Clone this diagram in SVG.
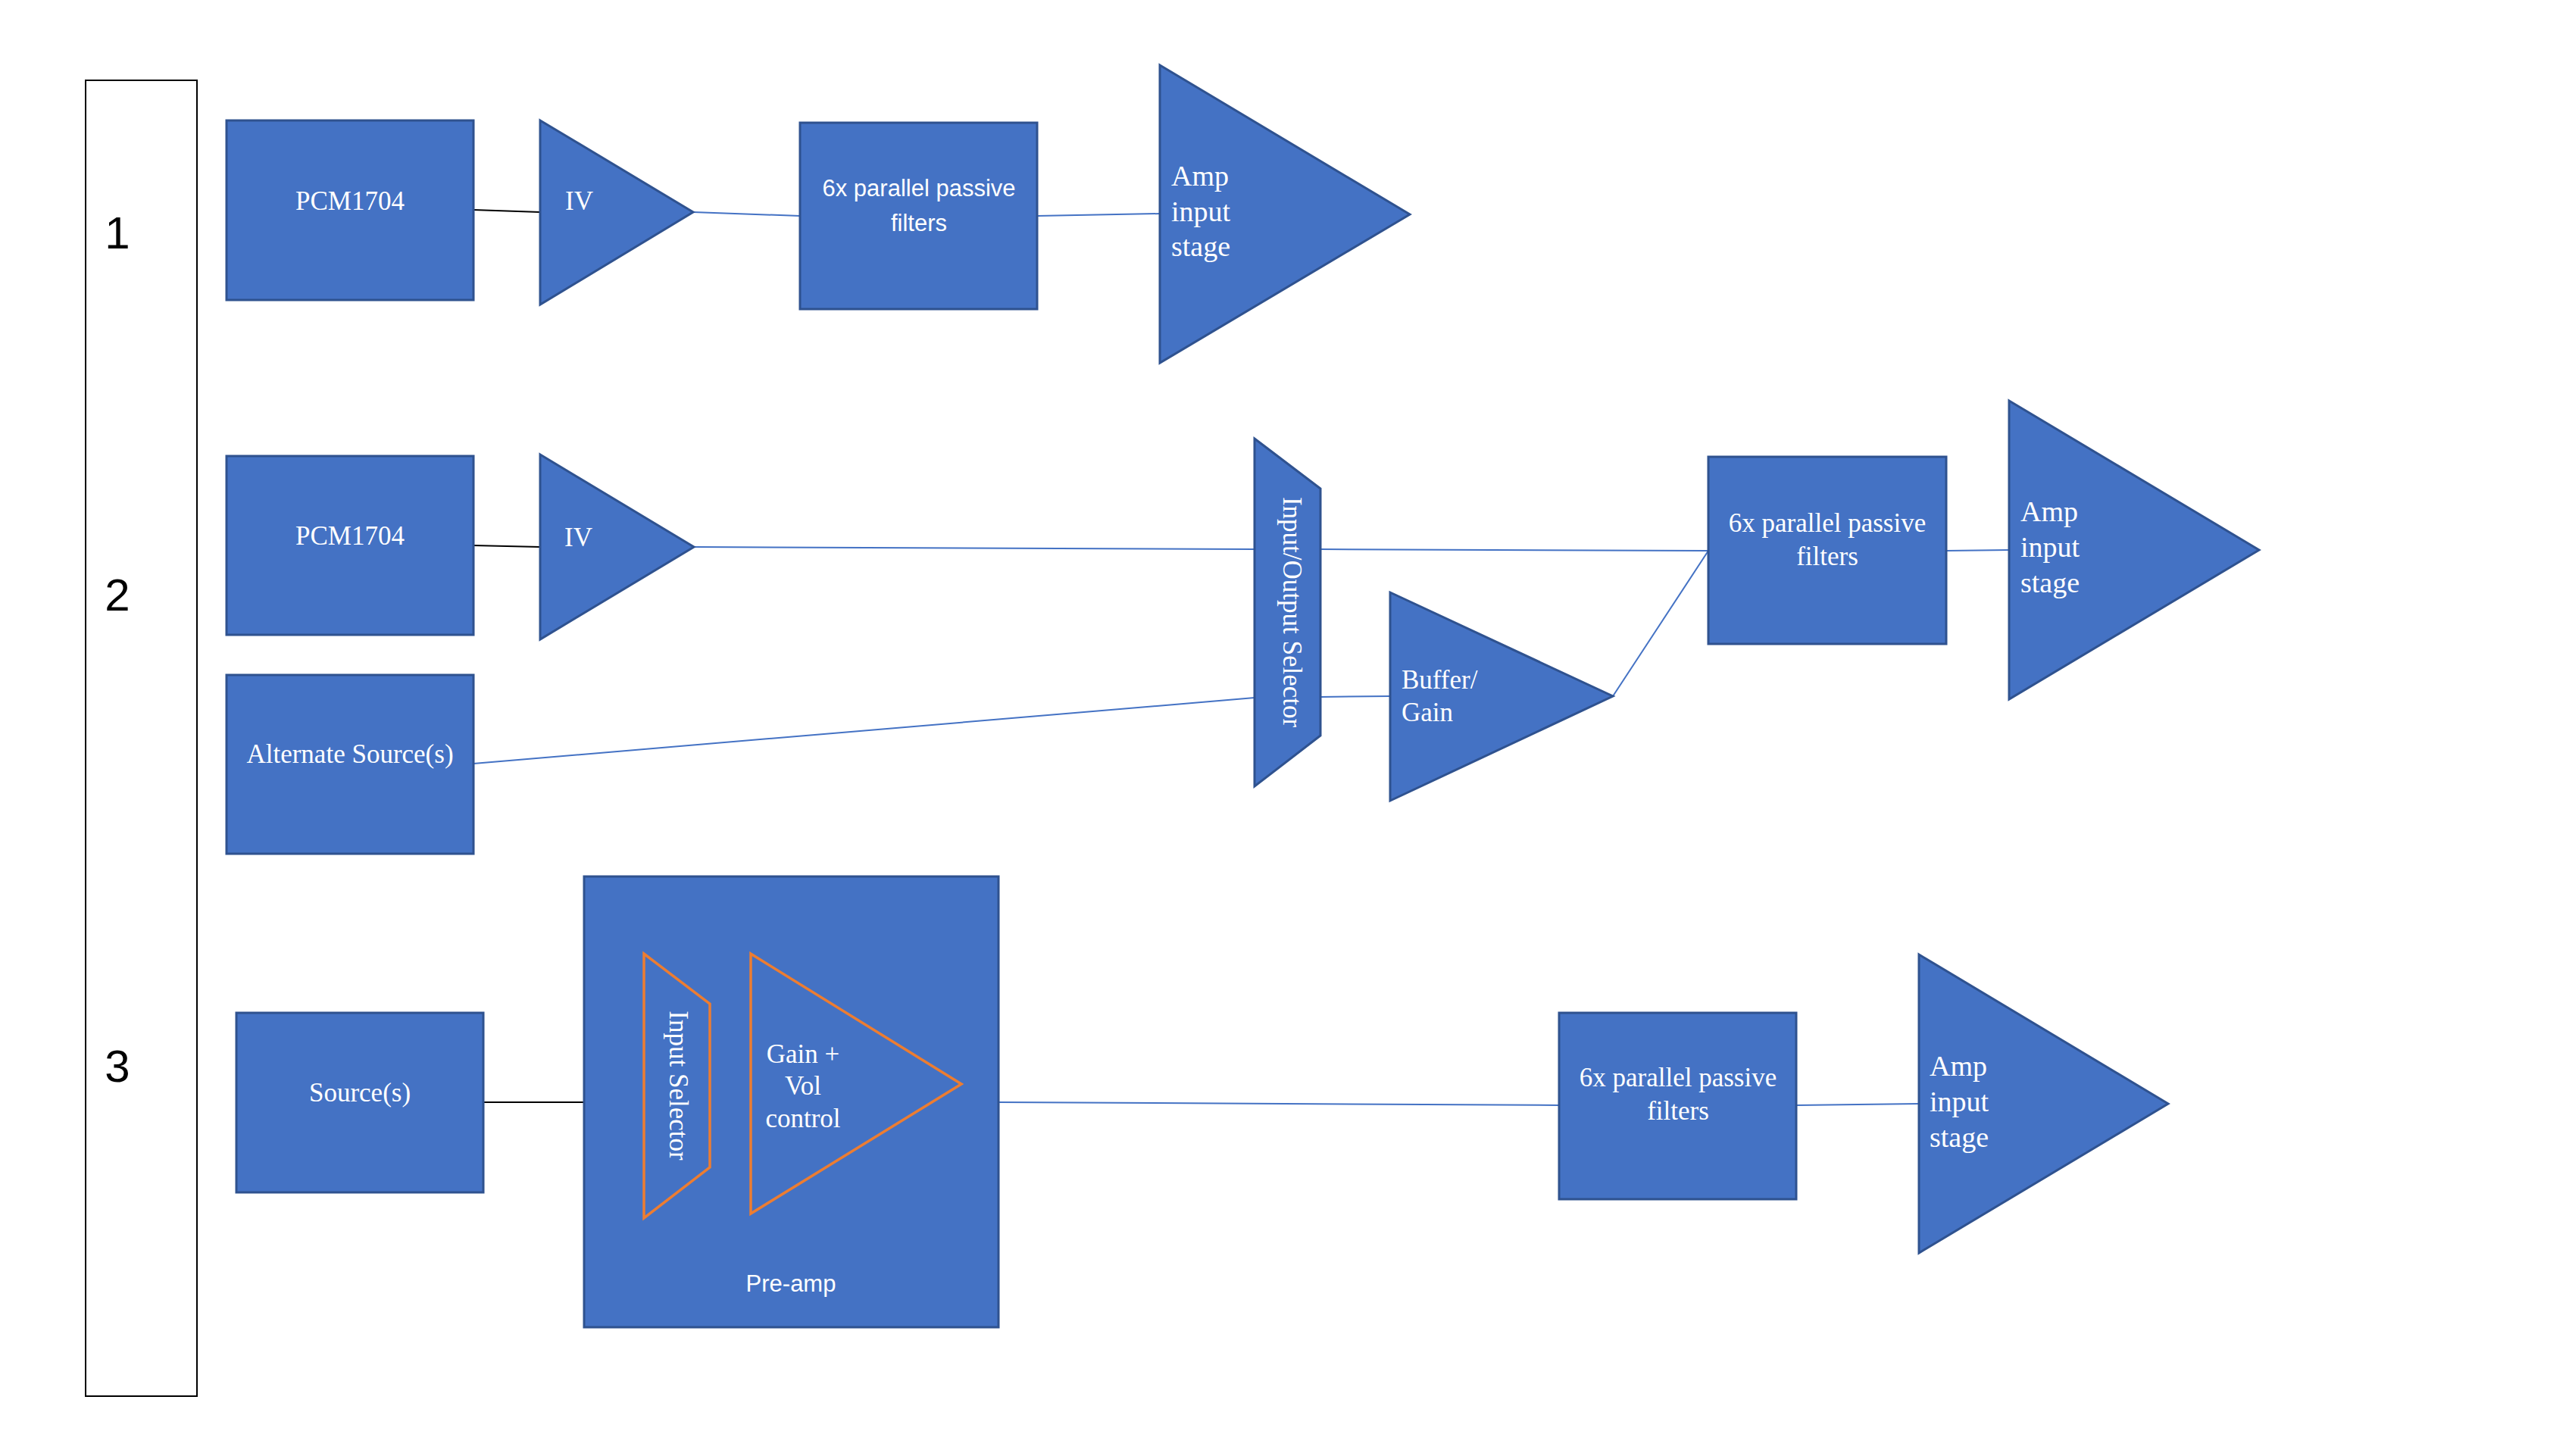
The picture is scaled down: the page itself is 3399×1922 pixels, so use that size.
<svg xmlns="http://www.w3.org/2000/svg" width="3399" height="1922" viewBox="0 0 3399 1922">
<style>
.blk{fill:#4472C4;stroke:#2F528F;stroke-width:3}
.org{fill:none;stroke:#ED7D31;stroke-width:3.5}
.cb{stroke:#4472C4;stroke-width:2;fill:none}
.ck{stroke:#000;stroke-width:2;fill:none}
.ts{font-family:"Liberation Serif","Times New Roman",serif;font-size:35px;fill:#fff}
.ta{font-family:"Liberation Serif","Times New Roman",serif;font-size:38px;fill:#fff}
.tn{font-family:"Liberation Sans",Arial,sans-serif;font-size:31px;fill:#fff}
.num{font-family:"Liberation Sans",Arial,sans-serif;font-size:60px;fill:#000;text-anchor:middle}
.mid{text-anchor:middle}
</style>
<rect width="3399" height="1922" fill="#fff"/>
<g id="connectors">
<line class="ck" x1="625" y1="277" x2="713" y2="280"/>
<line class="cb" x1="915" y1="280" x2="1056" y2="285"/>
<line class="cb" x1="1369" y1="285" x2="1531" y2="282"/>
<line class="ck" x1="625" y1="720" x2="713" y2="722"/>
<line class="cb" x1="916" y1="722" x2="1656" y2="725"/>
<line class="cb" x1="1743" y1="725" x2="2255" y2="727"/>
<line class="cb" x1="625" y1="1008" x2="1656" y2="921"/>
<line class="cb" x1="1743" y1="920" x2="1835" y2="919"/>
<line class="cb" x1="2129" y1="919" x2="2255" y2="727"/>
<line class="cb" x1="2569" y1="727" x2="2652" y2="726"/>
<line class="ck" x1="639" y1="1455" x2="771" y2="1455"/>
<line class="cb" x1="1318" y1="1455" x2="2058" y2="1459"/>
<line class="cb" x1="2371" y1="1459" x2="2533" y2="1457"/>
</g>
<g id="rows">
<rect x="113" y="106" width="147" height="1737" fill="#fff" stroke="#000" stroke-width="2"/>
<text class="num" x="155" y="328">1</text>
<text class="num" x="155" y="806">2</text>
<text class="num" x="155" y="1428">3</text>
</g>
<g id="pcm1">
<rect class="blk" x="299" y="159" width="326" height="237"/>
<text class="ts mid" x="462" y="277">PCM1704</text>
</g>
<g id="iv1">
<polygon class="blk" points="713,159 915,280 713,402"/>
<text class="ts" x="746" y="277">IV</text>
</g>
<g id="filt1">
<rect class="blk" x="1056" y="162" width="313" height="246"/>
<text class="tn mid" x="1213" y="259">6x parallel passive</text>
<text class="tn mid" x="1213" y="305">filters</text>
</g>
<g id="amp1">
<polygon class="blk" points="1531,86 1861,283 1531,479"/>
<text class="ta" x="1546" y="245">Amp</text>
<text class="ta" x="1546" y="292">input</text>
<text class="ta" x="1546" y="338">stage</text>
</g>
<g id="pcm2">
<rect class="blk" x="299" y="602" width="326" height="236"/>
<text class="ts mid" x="462" y="719">PCM1704</text>
</g>
<g id="iv2">
<polygon class="blk" points="713,600 916,722 713,844"/>
<text class="ts" x="745" y="721">IV</text>
</g>
<g id="alt">
<rect class="blk" x="299" y="891" width="326" height="236"/>
<text class="ts mid" x="462" y="1007">Alternate Source(s)</text>
</g>
<g id="iosel">
<polygon class="blk" points="1656,579 1743,645 1743,971 1656,1038"/>
<text class="ts mid" transform="translate(1694,808) rotate(90)" x="0" y="0">Input/Output Selector</text>
</g>
<g id="buffer">
<polygon class="blk" points="1835,782 2129,919 1835,1057"/>
<text class="ts" x="1850" y="909">Buffer/</text>
<text class="ts" x="1850" y="952">Gain</text>
</g>
<g id="filt2">
<rect class="blk" x="2255" y="603" width="314" height="247"/>
<text class="ts mid" x="2412" y="702">6x parallel passive</text>
<text class="ts mid" x="2412" y="746">filters</text>
</g>
<g id="amp2">
<polygon class="blk" points="2652,529 2982,726 2652,923"/>
<text class="ta" x="2667" y="688">Amp</text>
<text class="ta" x="2667" y="735">input</text>
<text class="ta" x="2667" y="782">stage</text>
</g>
<g id="source">
<rect class="blk" x="312" y="1337" width="326" height="237"/>
<text class="ts mid" x="475" y="1454">Source(s)</text>
</g>
<g id="preamp">
<rect class="blk" x="771" y="1157" width="547" height="595"/>
<text class="tn mid" x="1044" y="1705">Pre-amp</text>
<polygon class="org" points="850,1259 937,1325 937,1541 850,1608"/>
<text class="ts mid" transform="translate(884,1433) rotate(90)" x="0" y="0">Input Selector</text>
<polygon class="org" points="991,1259 1269,1431 991,1602"/>
<text class="ts mid" x="1060" y="1403">Gain +</text>
<text class="ts mid" x="1060" y="1445">Vol</text>
<text class="ts mid" x="1060" y="1488">control</text>
</g>
<g id="filt3">
<rect class="blk" x="2058" y="1337" width="313" height="246"/>
<text class="ts mid" x="2215" y="1434">6x parallel passive</text>
<text class="ts mid" x="2215" y="1478">filters</text>
</g>
<g id="amp3">
<polygon class="blk" points="2533,1260 2862,1457 2533,1654"/>
<text class="ta" x="2547" y="1420">Amp</text>
<text class="ta" x="2547" y="1467">input</text>
<text class="ta" x="2547" y="1514">stage</text>
</g>
</svg>
